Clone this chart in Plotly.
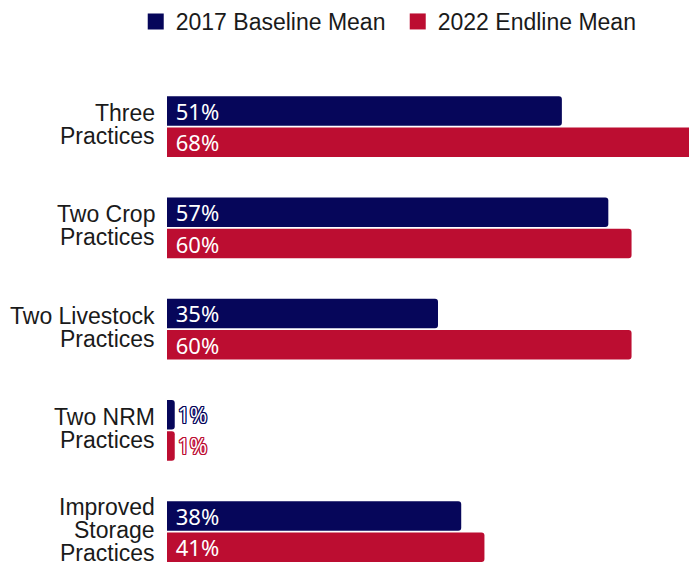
import plotly.graph_objects as go

# Survey indicators (top to bottom)
categories = ["Three<br>Practices", "Two Crop<br>Practices", "Two Livestock<br>Practices",
              "Two NRM<br>Practices", "Improved<br>Storage<br>Practices"]
baseline_2017 = [51, 57, 35, 1, 38]
endline_2022 = [68, 60, 60, 1, 41]

series_names = ["2017 Baseline Mean", "2022 Endline Mean"]
NAVY = "#06065A"
RED = "#BC0D31"
LABEL_FONT = "Liberation Sans, Arial, sans-serif"
BAR_FONT = "Noto Sans, sans-serif"

ypos = list(range(len(categories)))


def outline(color):
    return ", ".join(f"{dx}px {dy}px 0 {color}" for dx in (-1, 0, 1) for dy in (-1, 0, 1)
                     if (dx, dy) != (0, 0))


def bar_trace(values, name, color):
    text = [("\u00a0" if v >= 5 else "") + f"{v}%" for v in values]
    pos = ["inside" if v >= 5 else "outside" for v in values]
    return go.Bar(
        x=values, y=ypos, orientation="h", name=name,
        marker=dict(color=color, line=dict(width=0)),
        text=text, textposition=pos, insidetextanchor="start",
        constraintext="none",
        insidetextfont=dict(family=BAR_FONT, size=22, color="white"),
        outsidetextfont=dict(family=BAR_FONT, size=21, color="white", shadow=outline(color)),
        showlegend=False, hoverinfo="skip",
    )


fig = go.Figure()
fig.add_trace(bar_trace(baseline_2017, series_names[0], NAVY))
fig.add_trace(bar_trace(endline_2022, series_names[1], RED))

# Legend entries drawn as square markers
for name, color in zip(series_names, [NAVY, RED]):
    fig.add_trace(go.Scatter(
        x=[None], y=[None], mode="markers", name=name,
        marker=dict(symbol="square", size=17, color=color),
    ))

# Category labels, one annotation per line for tight line spacing
line_step = 23
for i, label in enumerate(categories):
    lines = label.split("<br>")
    n = len(lines)
    for j, line in enumerate(lines):
        fig.add_annotation(
            text=line, xref="paper", x=0, xanchor="right", xshift=-10,
            yref="y", y=i, yanchor="middle",
            yshift=((n - 1) / 2 - j) * line_step + 2,
            showarrow=False, font=dict(family=LABEL_FONT, size=23, color="#1a1a1a"),
        )

fig.update_layout(
    width=689, height=564,
    margin=dict(l=167, r=0, t=76, b=0),
    barmode="group", bargap=0.38, bargroupgap=0.06, barcornerradius=3,
    plot_bgcolor="white", paper_bgcolor="white",
    xaxis=dict(range=[0, 67.42], visible=False, fixedrange=True),
    yaxis=dict(range=[4.32, -0.5], visible=False, fixedrange=True),
    legend=dict(orientation="h", xref="container", yref="container",
                x=0.197, y=1.0, xanchor="left", yanchor="top",
                entrywidth=217, entrywidthmode="pixels",
                font=dict(family=LABEL_FONT, size=23, color="#1a1a1a"),
                itemclick=False, itemdoubleclick=False),
    showlegend=True,
)

fig.write_html("out.html", config={"displayModeBar": False})
